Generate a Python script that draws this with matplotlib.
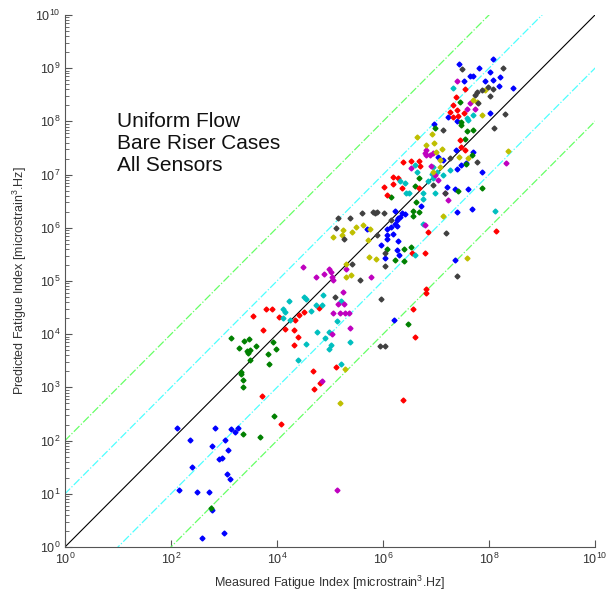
import numpy as np
import matplotlib.pyplot as plt
from matplotlib.ticker import LogLocator, NullLocator, NullFormatter

plt.rcParams['font.family'] = ['Liberation Sans', 'DejaVu Sans']
plt.rcParams['mathtext.default'] = 'regular'

# values, stored as log10(measured), log10(predicted)
blue_lx = [2.11, 2.36, 2.83, 2.77, 3.01, 3.13, 3.21, 3.27, 3.08, 2.91, 2.97, 2.40, 3.05, 3.11,
           2.16, 2.49, 2.71, 2.77, 2.59, 3.00,
           6.23, 6.29, 6.26, 6.23, 6.32, 6.36, 6.42, 6.08, 6.16, 6.26, 6.08, 6.18, 6.08, 6.28,
           5.96, 6.26, 6.31, 6.04, 5.70, 6.72, 7.39, 7.67, 7.87, 7.35, 7.60, 7.36, 6.21, 7.14,
           7.39, 7.47, 7.57, 7.69, 7.04,
           8.08, 7.44, 7.81, 7.65, 7.70, 8.01, 8.21, 7.53, 7.92, 8.07, 8.19, 8.46, 7.23, 8.02,
           6.97, 7.39, 7.38, 7.20]
blue_ly = [2.23, 2.02, 2.23, 1.90, 2.01, 2.21, 2.16, 2.23, 1.82, 1.65, 1.67, 1.51, 1.37, 1.28,
           1.07, 1.03, 1.03, 0.70, 0.16, 0.26,
           6.32, 6.18, 6.15, 6.08, 6.21, 6.27, 6.26, 5.97, 6.02, 6.03, 5.86, 5.88, 5.78, 5.76,
           5.68, 5.58, 5.49, 5.43, 5.97, 6.41, 6.30, 6.35, 7.05, 6.72, 6.72, 5.39, 4.27, 7.27,
           7.10, 7.18, 7.21, 7.43, 7.33,
           9.17, 9.07, 9.01, 8.86, 8.86, 8.93, 8.83, 8.76, 8.76, 8.78, 8.67, 8.62, 8.09, 8.16,
           7.95, 8.01, 7.46, 6.77]

green_lx = [3.35, 3.35, 3.35, 3.68, 2.75, 3.14, 3.38, 3.47, 3.28, 3.44, 3.50, 3.45, 3.60, 3.93,
            3.98, 3.83, 3.50, 3.85, 3.32, 3.33, 3.95,
            6.16, 6.08, 6.40, 6.53, 6.23, 6.40, 6.57, 6.57, 6.67, 6.62, 6.68, 7.86, 7.41, 7.56,
            7.68, 6.47, 7.45, 7.48, 7.47, 7.58, 7.70, 6.98, 7.55, 6.60]
green_ly = [3.14, 3.01, 2.12, 2.07, 0.73, 3.93, 3.88, 3.90, 3.74, 3.69, 3.70, 3.64, 3.78, 3.86,
            3.72, 3.62, 3.52, 3.43, 3.28, 3.25, 2.47,
            6.57, 5.60, 5.60, 5.63, 5.39, 5.38, 6.32, 6.23, 6.30, 6.49, 6.93, 6.74, 6.70, 7.20,
            7.37, 4.20, 8.37, 7.99, 7.93, 7.81, 7.84, 7.87, 7.66, 6.79]

red_lx = [3.54, 3.79, 3.90, 4.04, 4.42, 4.51, 4.34, 4.15, 3.74, 4.32, 4.39, 4.33, 4.80, 5.11,
          4.68, 4.81, 4.70, 3.72, 4.08,
          6.02, 6.08, 6.18, 6.35, 6.68, 6.85, 6.79, 6.82, 6.82, 6.57, 8.13, 6.38, 6.53, 6.68,
          6.19, 6.29, 7.55, 7.38, 7.32, 7.26, 7.39, 7.42, 7.52, 7.33, 7.45, 7.48, 6.70, 7.55,
          6.60, 6.38, 6.54]
red_ly = [4.35, 4.47, 4.47, 4.33, 4.36, 4.42, 4.26, 4.10, 4.08, 4.08, 3.95, 3.80, 4.50, 3.38,
          3.30, 3.09, 2.97, 2.84, 2.31,
          6.77, 6.62, 6.82, 6.74, 6.74, 5.93, 5.53, 4.84, 4.78, 4.47, 5.94, 7.24, 7.26, 7.26,
          6.96, 6.94, 8.60, 8.45, 8.31, 8.18, 8.21, 8.10, 8.15, 8.09, 7.65, 7.52, 7.17, 7.46,
          3.95, 2.76, 5.52]

cyan_lx = [4.22, 4.51, 4.54, 4.12, 4.15, 4.11, 4.25, 4.65, 4.74, 4.85, 4.86, 5.21, 5.13, 4.76,
           4.98, 4.90, 5.01, 4.98, 4.55, 5.37, 4.40, 5.21,
           6.32, 6.42, 6.43, 6.49, 6.76, 6.76, 6.85, 6.60, 6.64, 6.75, 6.60, 8.11, 6.99, 6.92,
           7.32, 7.61, 7.70, 7.58, 6.95, 7.14, 7.26, 6.95, 7.01]
cyan_ly = [4.63, 4.69, 4.66, 4.47, 4.42, 4.30, 4.27, 4.44, 4.54, 4.54, 4.74, 4.63, 4.25, 4.05,
           4.05, 3.93, 3.80, 3.73, 3.82, 3.85, 3.52, 3.43,
           6.87, 6.84, 6.65, 6.65, 6.65, 6.55, 6.87, 7.18, 7.05, 6.07, 5.48, 6.32, 6.65, 7.02,
           8.62, 8.03, 8.12, 8.06, 7.15, 6.99, 7.09, 6.93, 7.05]

magenta_lx = [4.50, 4.73, 4.89, 4.98, 5.01, 5.03, 5.05, 5.77, 5.25, 5.16, 5.26, 5.05, 5.19, 5.28,
              5.36, 5.38, 5.04, 4.84, 5.30,
              6.79, 7.22, 6.53, 6.79, 6.82, 7.04, 6.99, 7.39, 7.64, 7.58, 7.74, 6.82, 6.89, 6.95,
              8.33, 6.90, 7.17, 5.13]
magenta_ly = [5.26, 5.08, 5.14, 5.23, 5.16, 5.08, 5.02, 5.08, 4.80, 4.56, 4.56, 4.40, 4.40, 4.40,
              4.40, 4.11, 4.00, 3.12, 5.22,
              6.06, 6.52, 7.12, 7.41, 7.37, 6.90, 6.99, 8.76, 8.34, 8.23, 8.23, 7.46, 7.37, 7.40,
              7.22, 7.16, 6.65, 1.07]

yellow_lx = [5.74, 5.30, 5.39, 5.30, 5.29, 5.18, 5.25, 5.22, 5.06, 5.41, 5.50, 5.63, 5.72, 5.75,
             5.87, 7.13, 7.59, 7.92, 7.70, 7.86, 7.77, 6.65, 6.92, 6.82, 6.97, 7.11, 7.00, 7.44,
             7.61, 8.36, 7.08, 7.08, 6.95]
yellow_ly = [5.45, 5.31, 5.12, 5.07, 3.34, 2.71, 5.96, 5.86, 5.83, 5.93, 6.02, 6.05, 5.77, 5.98,
             5.41, 6.22, 5.43, 8.59, 8.41, 8.12, 8.37, 7.71, 7.76, 7.56, 7.59, 7.49, 7.43, 7.33,
             7.31, 7.44, 7.27, 7.15, 7.04]

grey_lx = [5.42, 5.57, 5.09, 5.94, 6.04, 5.16, 5.38, 5.60, 5.81, 5.85, 5.88, 6.01, 5.11, 5.26,
           5.88, 6.15, 6.04, 6.04, 5.96, 7.18, 7.40, 7.77, 6.95, 7.17, 8.26, 7.49, 7.99, 8.08,
           7.86, 7.77, 7.74, 8.02, 7.80, 8.30, 8.10, 7.14, 7.26]
grey_ly = [5.31, 5.02, 4.69, 3.77, 3.77, 6.18, 6.18, 6.27, 6.30, 6.27, 6.30, 6.28, 5.99, 5.78,
           5.86, 6.15, 5.52, 5.29, 4.66, 5.91, 5.10, 7.23, 6.80, 6.65, 9.01, 8.98, 8.65, 8.61,
           8.59, 8.56, 8.50, 8.48, 8.34, 8.14, 7.87, 7.83, 7.31]

series = [
    (blue_lx, blue_ly, (0, 0, 1)),
    (green_lx, green_ly, (0, 0.5, 0)),
    (red_lx, red_ly, (1, 0, 0)),
    (cyan_lx, cyan_ly, (0, 0.75, 0.75)),
    (magenta_lx, magenta_ly, (0.75, 0, 0.75)),
    (yellow_lx, yellow_ly, (0.75, 0.75, 0)),
    (grey_lx, grey_ly, (0.25, 0.25, 0.25)),
]

fig = plt.figure(figsize=(6.16, 5.97), dpi=100)
ax = fig.add_axes([0.1055, 0.0838, 0.8604, 0.8911])

# reference lines: 1:1, factor 10 and factor 100
line = np.array([1e-2, 1e12])
ax.plot(line, line, color='k', lw=0.8)
ax.plot(line, line * 10, color=(0.3, 1, 1), lw=0.9, ls='-.')
ax.plot(line, line / 10, color=(0.3, 1, 1), lw=0.9, ls='-.')
ax.plot(line, line * 100, color=(0.4, 1, 0.4), lw=0.9, ls='-.')
ax.plot(line, line / 100, color=(0.4, 1, 0.4), lw=0.9, ls='-.')

for lx, ly, c in series:
    ax.plot(10 ** np.array(lx), 10 ** np.array(ly), ls='none', marker='D',
            ms=2.5, mec=c, mfc=c)

ax.set_xscale('log')
ax.set_yscale('log')
ax.set_xlim(1, 1e10)
ax.set_ylim(1, 1e10)

ax.xaxis.set_major_locator(LogLocator(base=100, numticks=20))
ax.xaxis.set_minor_locator(NullLocator())
ax.yaxis.set_major_locator(LogLocator(base=10, numticks=20))
ax.yaxis.set_minor_locator(LogLocator(base=10, subs=np.arange(2, 10), numticks=20))
ax.yaxis.set_minor_formatter(NullFormatter())

for s in ['top', 'right']:
    ax.spines[s].set_visible(False)
for s in ['left', 'bottom']:
    ax.spines[s].set_color('#555555')
ax.tick_params(which='both', direction='in', colors='#555555', labelcolor='#333333',
               labelsize=9)
ax.tick_params(which='major', length=5)
ax.tick_params(which='minor', length=3)

ax.set_xlabel('Measured Fatigue Index [microstrain$^3$.Hz]', fontsize=9, color='#333333',
              labelpad=5)
ax.set_ylabel('Predicted Fatigue Index [microstrain$^3$.Hz]', fontsize=9, color='#333333')

ax.text(0.098, 0.818, 'Uniform Flow\nBare Riser Cases\nAll Sensors', transform=ax.transAxes,
        fontsize=15, va='top', ha='left', linespacing=1.2, color='#111111')

fig.savefig('out.png', dpi=100)
